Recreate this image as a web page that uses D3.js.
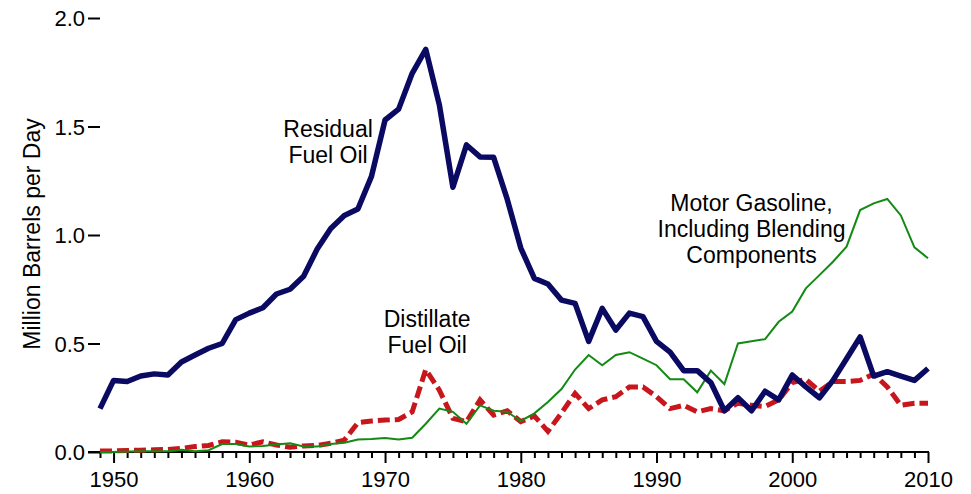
<!DOCTYPE html>
<html>
<head>
<meta charset="utf-8">
<script src="https://cdn.jsdelivr.net/npm/d3@7"></script>
<style>
    body { margin: 0; background: #fff; }
    svg { display: block; font-family: "Liberation Sans", Arial, sans-serif; }
</style>
</head>
<body>
<svg id="vis" width="971" height="494"></svg>
<script>

//yearly values, million barrels per day
var years = d3.range(1949, 2011);

var residual = [0.20, 0.33, 0.325, 0.35, 0.36, 0.355, 0.415, 0.447, 0.478, 0.50,
    0.61, 0.64, 0.665, 0.728, 0.75, 0.81, 0.935, 1.03, 1.09, 1.12,
    1.27, 1.53, 1.58, 1.745, 1.855, 1.60, 1.22, 1.415, 1.36, 1.358,
    1.165, 0.94, 0.80, 0.774, 0.70, 0.685, 0.51, 0.662, 0.562, 0.64,
    0.624, 0.51, 0.46, 0.375, 0.375, 0.32, 0.19, 0.25, 0.19, 0.28,
    0.24, 0.355, 0.30, 0.25, 0.33, 0.43, 0.53, 0.35, 0.37, 0.35,
    0.33, 0.385];

var distillate = [0.005, 0.005, 0.007, 0.008, 0.01, 0.012, 0.017, 0.025, 0.03, 0.047,
    0.045, 0.032, 0.047, 0.032, 0.022, 0.028, 0.03, 0.04, 0.055, 0.135,
    0.143, 0.147, 0.15, 0.185, 0.38, 0.285, 0.155, 0.14, 0.24, 0.17,
    0.19, 0.14, 0.166, 0.095, 0.18, 0.27, 0.20, 0.24, 0.255, 0.30,
    0.30, 0.255, 0.20, 0.215, 0.185, 0.20, 0.19, 0.225, 0.215, 0.21,
    0.24, 0.32, 0.335, 0.28, 0.325, 0.325, 0.33, 0.36, 0.30, 0.215,
    0.225, 0.225];

var gasoline = [0.0, 0.0, 0.002, 0.003, 0.003, 0.004, 0.01, 0.003, 0.008, 0.037,
    0.037, 0.025, 0.028, 0.035, 0.04, 0.025, 0.025, 0.037, 0.043, 0.058,
    0.06, 0.065, 0.058, 0.066, 0.13, 0.20, 0.185, 0.13, 0.215, 0.19,
    0.185, 0.143, 0.178, 0.23, 0.29, 0.38, 0.447, 0.40, 0.447, 0.46,
    0.43, 0.40, 0.335, 0.335, 0.275, 0.375, 0.313, 0.50, 0.51, 0.52,
    0.60, 0.647, 0.754, 0.815, 0.877, 0.946, 1.115, 1.146, 1.166, 1.09,
    0.943, 0.893];

var yTicks = [0, 0.5, 1.0, 1.5, 2.0];
var xLabelYears = [1950, 1960, 1970, 1980, 1990, 2000, 2010];

//annotation text, anchored at (year, value) of its first baseline
var seriesLabels = [
    {id: "residual", lines: ["Residual", "Fuel Oil"], year: 1965.8, value: 1.453},
    {id: "distillate", lines: ["Distillate", "Fuel Oil"], year: 1973.1, value: 0.577},
    {id: "gasoline", lines: ["Motor Gasoline,", "Including Blending", "Components"], year: 1997.0, value: 1.112}
];

var margin = {t: 18, r: 43, b: 42, l: 100};
var width = 971 - margin.l - margin.r;
var height = 494 - margin.t - margin.b;

var svg = d3.select('#vis');

var plot = svg.append('g')
    .attr('transform', 'translate(' + margin.l + ',' + margin.t + ')');

var x = d3.scaleLinear().domain([1949, 2010]).range([0, width]);
var y = d3.scaleLinear().domain([0, 2]).range([height, 0]);

//y axis: only ticks and labels, no spine
var yAxis = plot.append('g')
    .attr('class', 'axis axis--y')
    .call(d3.axisLeft(y).tickValues(yTicks).tickFormat(d3.format('.1f')).tickSize(12).tickPadding(3));

yAxis.select('.domain').remove();
yAxis.selectAll('line').attr('stroke', '#000').attr('stroke-width', 2);
yAxis.selectAll('text')
    .attr('fill', '#000')
    .style('font-size', '22px')
    .attr('dy', '0.36em');

//x axis: tick every year, longer ones every decade
var xAxis = plot.append('g')
    .attr('class', 'axis axis--x')
    .attr('transform', 'translate(0,' + height + ')')
    .call(d3.axisBottom(x).tickValues(years).tickSize(6).tickPadding(8)
        .tickFormat(function (d) { return xLabelYears.indexOf(d) >= 0 ? d : ''; }));

xAxis.select('.domain').remove();
xAxis.selectAll('line')
    .attr('stroke', '#000')
    .attr('stroke-width', 2)
    .attr('y2', function (d) { return d % 10 === 0 ? 11 : 6; });
xAxis.selectAll('text')
    .attr('fill', '#000')
    .style('font-size', '22px')
    .attr('dy', '0.95em');

xAxis.append('line')
    .attr('x1', -12)
    .attr('x2', width + 1)
    .attr('y1', 0)
    .attr('y2', 0)
    .attr('stroke', '#000')
    .attr('stroke-width', 2);

svg.append('text')
    .attr('transform', 'rotate(-90)')
    .attr('x', -234)
    .attr('y', 40)
    .style('font-size', '23px')
    .style('text-anchor', 'middle')
    .attr('fill', '#000')
    .text('Million Barrels per Day');

//lines, red first so navy sits on top
var line = d3.line()
    .x(function (d, i) { return x(years[i]); })
    .y(function (d) { return y(d); });

plot.append('path')
    .datum(distillate)
    .attr('fill', 'none')
    .attr('stroke', '#c8161d')
    .attr('stroke-width', 5)
    .attr('stroke-dasharray', '12,5')
    .attr('d', line);

plot.append('path')
    .datum(gasoline)
    .attr('fill', 'none')
    .attr('stroke', '#138a13')
    .attr('stroke-width', 2)
    .attr('d', line);

plot.append('path')
    .datum(residual)
    .attr('fill', 'none')
    .attr('stroke', '#0a0a62')
    .attr('stroke-width', 5.5)
    .attr('stroke-linejoin', 'round')
    .attr('d', line);

//series annotations
var labels = plot.selectAll('.series-label')
    .data(seriesLabels)
    .enter()
    .append('text')
    .attr('class', 'series-label')
    .attr('fill', '#000')
    .style('font-size', '23px')
    .style('text-anchor', 'middle');

labels.selectAll('tspan')
    .data(function (d) {
        return d.lines.map(function (l) { return {text: l, parent: d}; });
    })
    .enter()
    .append('tspan')
    .attr('x', function (d) { return x(d.parent.year); })
    .attr('y', function (d, i) { return y(d.parent.value) + i * 26; })
    .text(function (d) { return d.text; });

</script>
</body>
</html>
